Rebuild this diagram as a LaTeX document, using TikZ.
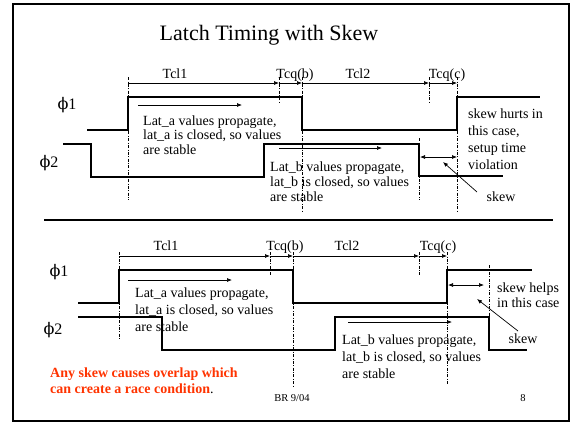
\documentclass[tikz,border=0pt]{standalone}
\usepackage{fontspec}
\setmainfont{Liberation Serif}
\newfontfamily\phifont{DejaVu Serif}
\usetikzlibrary{arrows.meta}
\definecolor{RaceRed}{RGB}{255,51,0}

\begin{document}
\begin{tikzpicture}[x=1pt, y=-1pt,
        wave/.style={line width=1.6pt},
        guide/.style={line width=0.6pt, dash pattern=on 3pt off 1.5pt on 0.8pt off 1.5pt},
        arr/.style={-{Latex[length=5pt,width=4pt]}, line width=0.7pt},
        darr/.style={{Latex[length=5pt,width=4pt]}-{Latex[length=5pt,width=4pt]}, line width=0.7pt},
        lbl/.style={inner sep=0pt, anchor=base, font=\fontsize{14}{14}\selectfont},
        sig/.style={inner sep=0pt, anchor=base, font=\fontsize{16}{16}\selectfont},
        txt/.style={inner sep=0pt, anchor=base west, align=left}
]
    \useasboundingbox (0,0) rectangle (579,424);
    \draw[line width=2.4pt] (13,4) rectangle (569,421);
    \node[inner sep=0pt, anchor=base, font=\fontsize{22}{22}\selectfont] (title) at (269,40) {Latch Timing with Skew};
    \draw[line width=1.5pt] (44,220) -- (553,220);

    % upper case: skew hurts
    \node[sig] (phiA1) at (67,109) {{\phifont ϕ}1};
    \node[sig] (phiA2) at (49,167) {{\phifont ϕ}2};
    \draw[wave] (87,130) -- (128,130) -- (128,97) -- (302,97) -- (302,130) -- (457,130) -- (457,97) -- (540,97);
    \draw[wave] (63,144) -- (91,144) -- (91,177) -- (264,177) -- (264,144) -- (419,144) -- (419,176) -- (503,176);

    \draw[guide] (128,77) -- (128,200);
    \draw[guide] (279,77) -- (279,102);
    \draw[guide] (302,77) -- (302,212);
    \draw[guide] (429,77) -- (429,102);
    \draw[guide] (419,138) -- (419,200);
    \draw[guide] (457,77) -- (457,212);

    \coordinate (ua1) at (128,83);
    \coordinate (ua2) at (279,83);
    \coordinate (ua3) at (302,83);
    \coordinate (ua4) at (429,83);
    \coordinate (ua5) at (457,83);
    \draw[arr] (ua1) -- (ua2);
    \draw[arr] (ua2) -- (ua3);
    \draw[arr] (ua3) -- (ua4);
    \draw[arr] (ua4) -- (ua5);
    \node[lbl] (uTcl1) at (175,78) {Tcl1};
    \node[lbl] (uTcqb) at (295,78) {Tcq(b)};
    \node[lbl] (uTcl2) at (358,78) {Tcl2};
    \node[lbl] (uTcqc) at (447,78) {Tcq(c)};

    \coordinate (ulaS) at (138,105);
    \coordinate (ulaE) at (242,105);
    \draw[arr] (ulaS) -- (ulaE);
    \node[txt, font=\fontsize{14}{14.5}\selectfont] (ulata) at (143,154) {Lat\_a values propagate,\\lat\_a is closed, so values\\are stable};
    \coordinate (ulbS) at (279,148);
    \coordinate (ulbE) at (382,148);
    \draw[arr] (ulbS) -- (ulbE);
    \node[txt, font=\fontsize{14}{15}\selectfont] (ulatb) at (270,201) {Lat\_b values propagate,\\lat\_b is closed, so values\\are stable};

    \coordinate (uskS) at (420,157);
    \coordinate (uskE) at (457,157);
    \draw[darr] (uskS) -- (uskE);
    \node[txt, font=\fontsize{14}{17}\selectfont] (uhurts) at (468,169) {skew hurts in\\this case,\\setup time\\violation};
    \node[lbl] (uskew) at (501,201) {skew};
    \coordinate (uptr) at (443,162);
    \draw[arr] (477,192) -- (uptr);

    % lower case: skew helps
    \node[sig] (phiB1) at (59,276) {{\phifont ϕ}1};
    \node[sig] (phiB2) at (53,334) {{\phifont ϕ}2};
    \draw[wave] (78,303) -- (119,303) -- (119,270) -- (293,270) -- (293,303) -- (447,303) -- (447,270) -- (532,270);
    \draw[wave] (78,317) -- (162,317) -- (162,350) -- (335,350) -- (335,317) -- (489,317) -- (489,350) -- (527,350);

    \draw[guide] (119,252) -- (119,340);
    \draw[guide] (270,252) -- (270,275);
    \draw[guide] (293,252) -- (293,387);
    \draw[guide] (419,252) -- (419,275);
    \draw[guide] (447,252) -- (447,385);
    \draw[guide] (489,265) -- (489,318);

    \coordinate (la1) at (119,256);
    \coordinate (la2) at (270,256);
    \coordinate (la3) at (293,256);
    \coordinate (la4) at (419,256);
    \coordinate (la5) at (447,256);
    \draw[arr] (la1) -- (la2);
    \draw[arr] (la2) -- (la3);
    \draw[arr] (la3) -- (la4);
    \draw[arr] (la4) -- (la5);
    \node[lbl] (lTcl1) at (166,250) {Tcl1};
    \node[lbl] (lTcqb) at (285,250) {Tcq(b)};
    \node[lbl] (lTcl2) at (347,250) {Tcl2};
    \node[lbl] (lTcqc) at (438,250) {Tcq(c)};

    \coordinate (llaS) at (128,280);
    \coordinate (llaE) at (232,280);
    \draw[arr] (llaS) -- (llaE);
    \node[txt, font=\fontsize{14}{17}\selectfont] (llata) at (135,331) {Lat\_a values propagate,\\lat\_a is closed, so values\\are stable};
    \coordinate (llbS) at (348,322);
    \coordinate (llbE) at (452,322);
    \draw[arr] (llbS) -- (llbE);
    \node[txt, font=\fontsize{14}{17}\selectfont] (llatb) at (342,378) {Lat\_b values propagate,\\lat\_b is closed, so values\\are stable};

    \coordinate (lskS) at (448,285);
    \coordinate (lskE) at (484,285);
    \draw[darr] (lskS) -- (lskE);
    \node[txt, font=\fontsize{14}{15}\selectfont] (lhelps) at (497,307) {skew helps\\in this case};
    \node[lbl] (lskew) at (523,343) {skew};
    \coordinate (lptr) at (477,299);
    \draw[arr] (518,331) -- (lptr);

    \node[txt, font=\fontsize{14}{16}\selectfont\bfseries, text=RaceRed] (race) at (50,393) {Any skew causes overlap which\\can create a race condition\textcolor{black}{\mdseries.}};
    \node[inner sep=0pt, anchor=base, font=\fontsize{10.5}{10.5}\selectfont] (foot) at (292,401) {BR 9/04};
    \node[inner sep=0pt, anchor=base, font=\fontsize{10.5}{10.5}\selectfont] (page) at (523,401) {8};
\end{tikzpicture}
\end{document}
